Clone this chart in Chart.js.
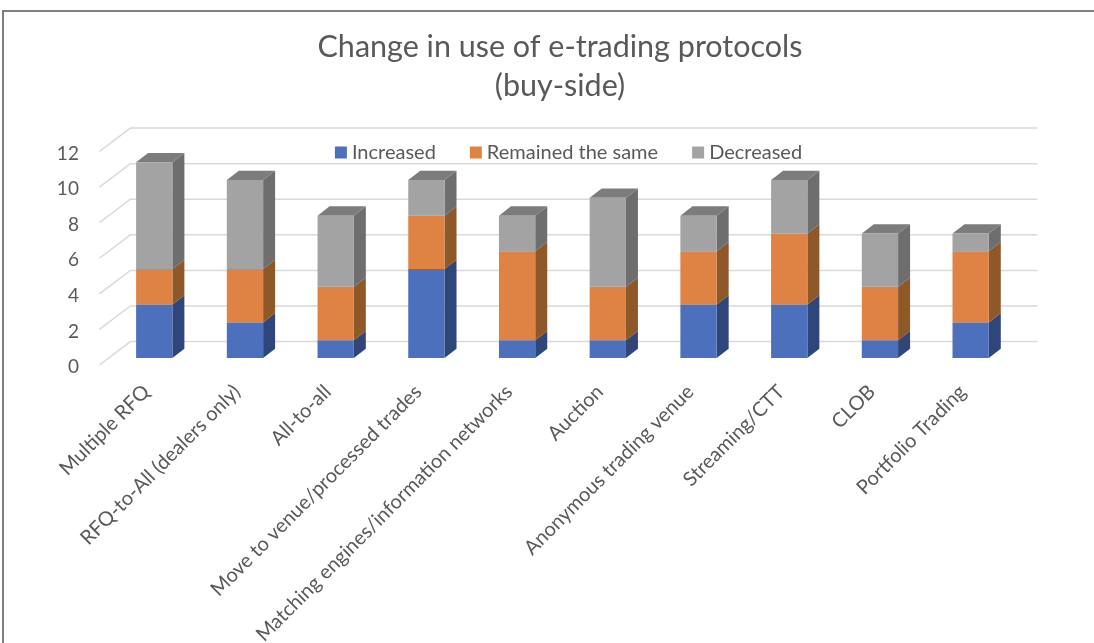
<!DOCTYPE html>
<html>
<head>
<meta charset="utf-8">
<script src="https://cdn.jsdelivr.net/npm/chart.js@4"></script>
<style>
	body { margin: 0; background: #fff; }
	#wrap { position: relative; width: 1094px; height: 643px; overflow: hidden; }
	#frame { position: absolute; left: 2px; top: 10px; width: 1100px; height: 700px; border: 2px solid #7f7f7f; }
	canvas { position: absolute; left: 0; top: 0; }
</style>
</head>
<body>
<div id="wrap">
	<div id="frame"></div>
	<canvas id="chart" width="1094" height="643"></canvas>
</div>
<script>
const categories = ['Multiple RFQ', 'RFQ-to-All (dealers only)', 'All-to-all', 'Move to venue/processed trades', 'Matching engines/information networks', 'Auction', 'Anonymous trading venue', 'Streaming/CTT', 'CLOB', 'Portfolio Trading']
const increased = [3, 2, 1, 5, 1, 1, 3, 3, 1, 2]
const remained = [2, 3, 3, 3, 5, 3, 3, 4, 3, 4]
const decreased = [6, 5, 4, 2, 2, 5, 2, 3, 3, 1]
const titleLines = ['Change in use of e-trading protocols', '(buy-side)']

const fontName = 'Lato'
const textColor = '#595959'
const gridColor = '#d9d9d9'
const sideColors = ['#2e4679', '#8f5829', '#6e6e6e']
const topColor = '#7c7c7c'
const depthX = 12, depthY = 9.3

// fake 3D: back wall lines, floor diagonals, then side and top faces of the bars
const depthPlugin = {
	id: 'depth',
	afterLayout(chart) {
		chart.titleBlock.left += 39
		chart.titleBlock.right += 39
		// legend sits over the plot, not above it
		chart.legend.top = chart.chartArea.top - 41
		chart.legend.bottom = chart.legend.top + 80
		chart.legend.left += 50
		chart.legend.right += 50
	},
	beforeDatasetsDraw(chart) {
		const ctx = chart.ctx
		const y = chart.scales.y
		const left = chart.chartArea.left, right = chart.chartArea.right
		ctx.save()
		ctx.strokeStyle = gridColor
		ctx.lineWidth = 1.5
		y.ticks.forEach((tick) => {
			const p = y.getPixelForValue(tick.value)
			ctx.beginPath()
			ctx.moveTo(left - 9.5, p + 7)
			ctx.lineTo(left + 21.5, p - 16.4)
			ctx.lineTo(right + 21.5, p - 16.4)
			ctx.stroke()
		})
		chart.data.datasets.forEach((ds, d) => {
			chart.getDatasetMeta(d).data.forEach((bar, i) => {
				const r = bar.x + bar.width / 2
				ctx.fillStyle = sideColors[d]
				ctx.beginPath()
				ctx.moveTo(r, bar.base)
				ctx.lineTo(r + depthX, bar.base - depthY)
				ctx.lineTo(r + depthX, bar.y - depthY)
				ctx.lineTo(r, bar.y)
				ctx.closePath()
				ctx.fill()
				if (d === chart.data.datasets.length - 1) {
					ctx.fillStyle = topColor
					ctx.beginPath()
					ctx.moveTo(r, bar.y)
					ctx.lineTo(r + depthX, bar.y - depthY)
					ctx.lineTo(r + depthX - bar.width, bar.y - depthY)
					ctx.lineTo(r - bar.width, bar.y)
					ctx.closePath()
					ctx.fill()
				}
			})
		})
		ctx.restore()
	}
}

new Chart(document.getElementById('chart'), {
	type: 'bar',
	data: {
		labels: categories,
		datasets: [
			{ label: 'Increased', data: increased, backgroundColor: '#4d70bc', stack: 's' },
			{ label: 'Remained the same', data: remained, backgroundColor: '#de8344', stack: 's' },
			{ label: 'Decreased', data: decreased, backgroundColor: '#a3a3a3', stack: 's' }
		]
	},
	plugins: [depthPlugin],
	options: {
		responsive: false,
		animation: false,
		layout: { padding: { left: 26, right: 78, top: 28, bottom: 0 } },
		datasets: { bar: { categoryPercentage: 1, barPercentage: 0.4 } },
		plugins: {
			title: {
				display: true,
				text: titleLines,
				color: textColor,
				font: { family: fontName, size: 30.5, weight: 'normal', lineHeight: 1.28 },
				padding: { top: 0, bottom: 37.4 }
			},
			legend: {
				position: 'top',
				maxHeight: 1,
				labels: {
					color: textColor,
					font: { family: fontName, size: 20 },
					usePointStyle: true,
					pointStyle: 'rect',
					boxWidth: 2,
					boxHeight: 12,
					padding: 39
				}
			},
			tooltip: { enabled: false }
		},
		scales: {
			x: {
				stacked: true,
				grid: { display: false },
				border: { display: false },
				afterFit(scale) { scale.height = 285 },
				ticks: {
					color: textColor,
					font: { family: fontName, size: 20 },
					autoSkip: false,
					minRotation: 45,
					maxRotation: 45,
					padding: 14,
					labelOffset: -8
				}
			},
			y: {
				stacked: true,
				min: 0,
				max: 12,
				grid: { display: false },
				border: { display: false },
				afterFit(scale) { scale.width = 82.9 },
				ticks: {
					color: textColor,
					font: { family: fontName, size: 19 },
					stepSize: 2,
					padding: 22,
					labelOffset: 9
				}
			}
		}
	}
})
</script>
</body>
</html>
